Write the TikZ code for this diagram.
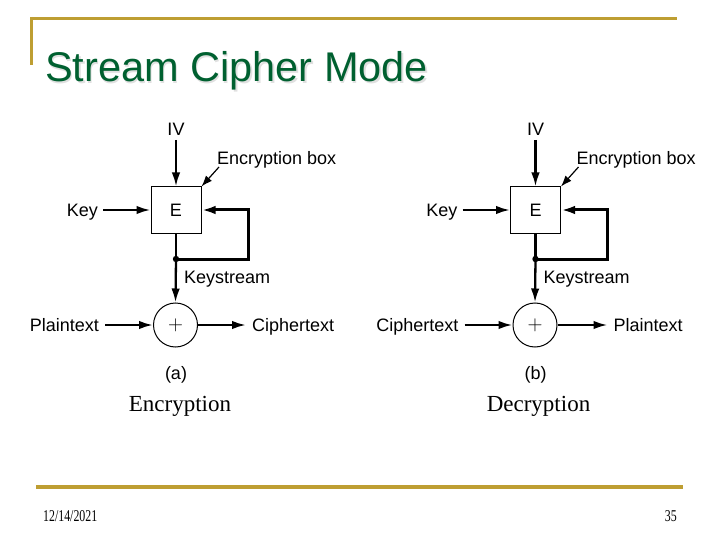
\documentclass[tikz,border=0pt]{standalone}
\usepackage{fontspec}
\setmainfont{Liberation Serif}
\setsansfont{Liberation Sans}
\usetikzlibrary{arrows.meta}
\definecolor{gold}{RGB}{190,158,50}
\definecolor{titlegreen}{RGB}{0,96,48}
\tikzset{
  lbl/.style={font=\sffamily\fontsize{18}{18}\selectfont, inner sep=0pt},
  ebox/.style={draw, line width=1pt, minimum width=50pt, minimum height=46pt, inner sep=0pt},
  xorc/.style={circle, draw, line width=1pt, minimum size=44pt, inner sep=0pt},
  plus/.style={inner sep=0pt, font=\fontsize{20}{20}\selectfont},
  flow/.style={line width=2.3pt, -{Latex[length=14pt,width=8.5pt]}},
  thin arrow/.style={line width=1.2pt, -{Latex[length=11pt,width=8pt]}},
  capt/.style={font=\rmfamily\fontsize{23}{23}\selectfont, inner sep=0pt},
  foot/.style={font=\rmfamily\fontsize{16.5}{17}\selectfont, inner sep=0pt, xscale=0.72},
}
\begin{document}
\begin{tikzpicture}[x=1pt,y=-1pt]
\useasboundingbox (0,0) rectangle (720,540);
% frame decoration
\draw[gold, line width=3pt] (30,18.5) -- (677,18.5);
\draw[gold, line width=3pt] (31,17) -- (31,65);
\draw[gold, line width=3.5pt] (36,487) -- (683,487);
% title
\node[anchor=base west, inner sep=0pt, text=black!12, font=\sffamily\fontsize{41.5}{42}\selectfont] at (46.5,83.5) {Stream Cipher Mode};
\node (title) [anchor=base west, inner sep=0pt, text=titlegreen, font=\sffamily\fontsize{41.5}{42}\selectfont] at (45,82) {Stream Cipher Mode};
% footer
\node (date) [foot, anchor=base west] at (43,521) {12/14/2021};
\node (page) [foot, anchor=base east] at (677,521) {35};

% ---------- (a) Encryption ----------
\begin{scope}
\node (ivA) [lbl, anchor=base] at (176,135.5) {IV};
\node (eA) [ebox] at (176,210) {};
\node [lbl, anchor=base] at (176,216.5) {E};
\node (keyA) [lbl, anchor=base east] at (98,216.5) {Key};
\node (ebA) [lbl, anchor=base west] at (217,164.5) {Encryption box};
\coordinate (ebAtail) at (219,167);
\node (xA) [xorc] at (175.5,325) {};
\node [plus] at (175.5,325) {$+$};
\node (ptA) [lbl, anchor=base east] at (99,331.5) {Plaintext};
\node (ctA) [lbl, anchor=base west] at (252,331.5) {Ciphertext};
\node (ksA) [lbl, anchor=base west] at (184,283.5) {Keystream};
\node (capA) [lbl, anchor=base] at (176,379.5) {(a)};
\node (encA) [capt, anchor=base] at (180,411) {Encryption};
\coordinate (dotA) at (176,259);
\coordinate (fbA1) at (248,259);
\coordinate (fbA2) at (248,210);
\draw[flow] (176,140) -- (eA.north);
\draw[flow] (103,210) -- (eA.west);
\draw[thin arrow] (ebAtail) -- (eA.north east);
\draw[line width=2.3pt] (eA.south) -- (dotA);
\draw[flow] (dotA) -- (xA.north);
\draw[flow, line width=3pt] (dotA) -- (fbA1) -- (fbA2) -- (eA.east);
\fill (dotA) circle (3.2pt);
\draw[flow] (105,325) -- (xA.west);
\draw[flow] (xA.east) -- (246,325);
\end{scope}

% ---------- (b) Decryption ----------
\begin{scope}[xshift=359.5pt]
\node (ivB) [lbl, anchor=base] at (176,135.5) {IV};
\node (eB) [ebox] at (176,210) {};
\node [lbl, anchor=base] at (176,216.5) {E};
\node (keyB) [lbl, anchor=base east] at (98,216.5) {Key};
\node (ebB) [lbl, anchor=base west] at (217,164.5) {Encryption box};
\coordinate (ebBtail) at (219,167);
\node (xB) [xorc] at (175.5,325) {};
\node [plus] at (175.5,325) {$+$};
\node (ptB) [lbl, anchor=base east] at (99,331.5) {Ciphertext};
\node (ctB) [lbl, anchor=base west] at (254,331.5) {Plaintext};
\node (ksB) [lbl, anchor=base west] at (184,283.5) {Keystream};
\node (capB) [lbl, anchor=base] at (176,379.5) {(b)};
\node (decB) [capt, anchor=base] at (179,411) {Decryption};
\coordinate (dotB) at (176,259);
\coordinate (fbB1) at (248,259);
\coordinate (fbB2) at (248,210);
\draw[flow] (176,140) -- (eB.north);
\draw[flow] (103,210) -- (eB.west);
\draw[thin arrow] (ebBtail) -- (eB.north east);
\draw[line width=2.3pt] (eB.south) -- (dotB);
\draw[flow] (dotB) -- (xB.north);
\draw[flow, line width=3pt] (dotB) -- (fbB1) -- (fbB2) -- (eB.east);
\fill (dotB) circle (3.2pt);
\draw[flow] (105,325) -- (xB.west);
\draw[flow] (xB.east) -- (248,325);
\end{scope}
\end{tikzpicture}
\end{document}
